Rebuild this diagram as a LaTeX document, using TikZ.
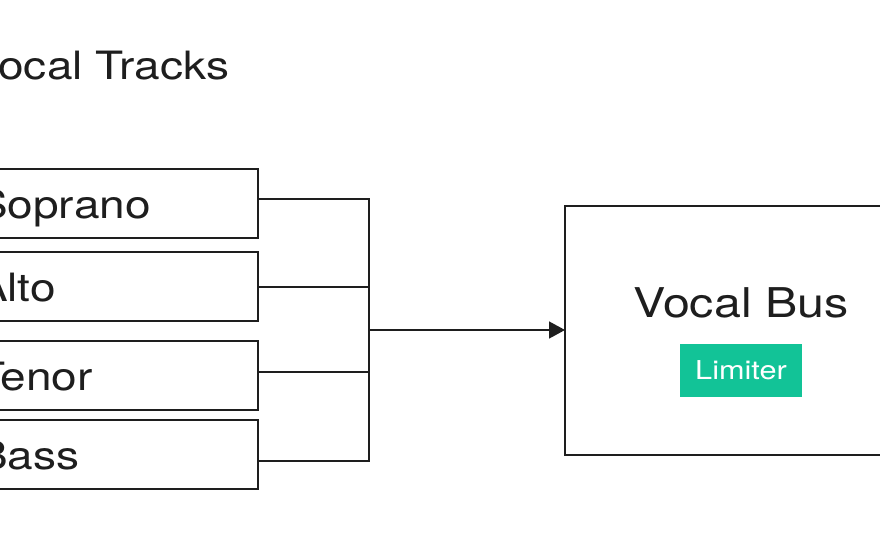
\documentclass[tikz,border=0pt]{standalone}
\usepackage{fontspec}
\setmainfont{TeX Gyre Heros}[FakeStretch=1.18]
\usetikzlibrary{arrows.meta, positioning}
\definecolor{inkgray}{HTML}{1E1E1E}
\definecolor{limgreen}{HTML}{12C397}

\begin{document}
\begin{tikzpicture}[
    x=1pt, y=-1pt,
    node distance=14pt,
    track/.style={rectangle, draw=inkgray, line width=1.6pt, outer sep=0pt,
                  text width=244pt, align=left, inner xsep=37pt, inner ysep=0pt,
                  minimum height=69pt, text height=30pt, text depth=0pt,
                  font=\fontsize{39}{40}\selectfont, text=inkgray},
    busbox/.style={rectangle, draw=inkgray, line width=1.6pt, outer sep=0pt,
                   minimum width=352pt, minimum height=249pt},
    heading/.style={font=\fontsize{39}{44}\selectfont, text=inkgray, inner sep=0pt},
    fxtag/.style={rectangle, fill=limgreen, text=white, inner sep=0pt,
                  minimum width=122pt, minimum height=53pt,
                  font=\fontsize{26}{30}\selectfont},
    wire/.style={line width=1.5pt, inkgray},
    arr/.style={-{Triangle[length=16pt, width=17pt]}, line width=1.5pt, inkgray},
]
\useasboundingbox (0,0) rectangle (880,540);
\clip (0,0) rectangle (880,540);

\node[heading, anchor=base west] (title) at (-30,80) {Vocal Tracks};

% track column
\node[track] (sop) at (99,203.5) {Soprano};
\node[track, below=of sop] (alto) {Alto};
\node[track, below=20pt of alto] (tenor) {Tenor};
\node[track, below=10pt of tenor] (bass) {Bass};

% bus
\node[busbox] (bus) at (741,330.5) {};
\node[heading, font=\fontsize{41}{44}\selectfont, anchor=base]
    (busname) at ([yshift=13.5pt]bus.center) {Vocal Bus};
\node[fxtag] (lim) at ([yshift=-40pt]bus.center) {Limiter};

\coordinate (merge) at (369,330);
\draw[wire] ([yshift=4.5pt]sop.east) -| (merge);
\draw[wire] ([yshift=-0.5pt]alto.east) -| (merge);
\draw[wire] ([yshift=3.5pt]tenor.east) -| (merge);
\draw[wire] ([yshift=-6.5pt]bass.east) -| (merge);
\draw[arr] (merge) -- (merge -| bus.west);
\end{tikzpicture}
\end{document}
